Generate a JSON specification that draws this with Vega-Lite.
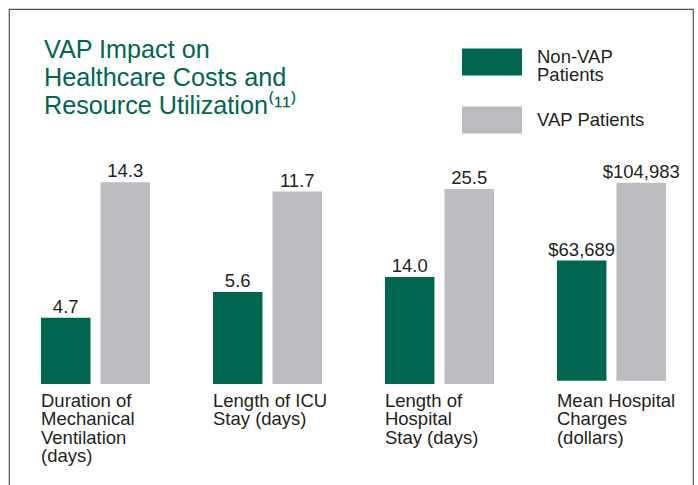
{
  "$schema": "https://vega.github.io/schema/vega-lite/v6.json",
  "width": 684,
  "height": 490,
  "padding": {"left": 9, "top": 9, "right": 5, "bottom": 0},
  "background": "white",
  "config": {
    "view": {"stroke": "#555555", "strokeWidth": 1.2},
    "font": "Liberation Sans",
    "text": {"font": "Liberation Sans", "fontSize": 18.5, "color": "#231f20"},
    "legend": {
      "orient": "none",
      "legendX": 453,
      "legendY": 23,
      "padding": 0,
      "title": null,
      "symbolType": "M-1,-0.45H1V0.45H-1Z",
      "symbolSize": 3600,
      "symbolStrokeWidth": 0,
      "symbolOpacity": 1,
      "labelFont": "Liberation Sans",
      "labelFontSize": 18.5,
      "labelColor": "#231f20",
      "labelOffset": 15,
      "labelLimit": 200,
      "rowPadding": 5
    }
  },
  "title": {
    "text": ["VAP Impact on", "Healthcare Costs and", "Resource Utilization⁽¹¹⁾"],
    "anchor": "start",
    "frame": "group",
    "orient": "top",
    "offset": -110,
    "dx": 35,
    "fontSize": 25.2,
    "font": "Liberation Sans",
    "fontWeight": "normal",
    "color": "#00664f",
    "lineHeight": 28
  },
  "data": {
    "values": [
      {"metric": "ventilation", "label": "Duration of\nMechanical\nVentilation\n(days)", "series": "Non-VAP Patients", "value": 4.7},
      {"metric": "ventilation", "label": "Duration of\nMechanical\nVentilation\n(days)", "series": "VAP Patients", "value": 14.3},
      {"metric": "icu", "label": "Length of ICU\nStay (days)", "series": "Non-VAP Patients", "value": 5.6},
      {"metric": "icu", "label": "Length of ICU\nStay (days)", "series": "VAP Patients", "value": 11.7},
      {"metric": "hospital", "label": "Length of\nHospital\nStay (days)", "series": "Non-VAP Patients", "value": 14.0},
      {"metric": "hospital", "label": "Length of\nHospital\nStay (days)", "series": "VAP Patients", "value": 25.5},
      {"metric": "charges", "label": "Mean Hospital\nCharges\n(dollars)", "series": "Non-VAP Patients", "value": 63689},
      {"metric": "charges", "label": "Mean Hospital\nCharges\n(dollars)", "series": "VAP Patients", "value": 104983}
    ]
  },
  "encoding": {
    "x": {
      "field": "metric",
      "type": "nominal",
      "axis": null,
      "scale": {"domain": ["ventilation", "icu", "hospital", "charges"], "paddingInner": 0.366, "paddingOuter": 0.1715, "align": 0.542}
    },
    "xOffset": {
      "field": "series",
      "type": "nominal",
      "scale": {"domain": ["Non-VAP Patients", "VAP Patients"], "paddingInner": 0.168, "paddingOuter": 0}
    }
  },
  "layer": [
    {
      "transform": [{"filter": "datum.metric == 'ventilation'"}],
      "encoding": {
        "y": {"field": "value", "type": "quantitative", "axis": null, "scale": {"domain": [-8.156, 26.596], "nice": false, "zero": false}}
      },
      "layer": [
        {
          "mark": {"type": "bar"},
          "encoding": {
            "color": {"field": "series", "type": "nominal", "scale": {"domain": ["Non-VAP Patients", "VAP Patients"], "range": ["#006652", "#bcbdc1"]},
              "legend": {"labelExpr": "datum.label == 'Non-VAP Patients' ? ['Non-VAP', 'Patients'] : datum.label", "encode": {"labels": {"update": {"lineHeight": {"value": 18}, "dy": {"signal": "datum.value == 'Non-VAP Patients' ? -5 : 0"}}}}}}
          }
        },
        {
          "mark": {"type": "text", "baseline": "alphabetic", "dy": -5},
          "encoding": {"text": {"field": "value", "type": "quantitative", "format": ".1f"}}
        }
      ]
    },
    {
      "transform": [{"filter": "datum.metric == 'icu'"}],
      "encoding": {
        "y": {"field": "value", "type": "quantitative", "axis": null, "scale": {"domain": [-6.991, 22.796], "nice": false, "zero": false}}
      },
      "layer": [
        {
          "mark": {"type": "bar"},
          "encoding": {
            "color": {"field": "series", "type": "nominal", "scale": {"domain": ["Non-VAP Patients", "VAP Patients"], "range": ["#006652", "#bcbdc1"]},
              "legend": {"labelExpr": "datum.label == 'Non-VAP Patients' ? ['Non-VAP', 'Patients'] : datum.label", "encode": {"labels": {"update": {"lineHeight": {"value": 18}, "dy": {"signal": "datum.value == 'Non-VAP Patients' ? -5 : 0"}}}}}}
          }
        },
        {
          "mark": {"type": "text", "baseline": "alphabetic", "dy": -5},
          "encoding": {"text": {"field": "value", "type": "quantitative", "format": ".1f"}}
        }
      ]
    },
    {
      "transform": [{"filter": "datum.metric == 'hospital'"}],
      "encoding": {
        "y": {"field": "value", "type": "quantitative", "axis": null, "scale": {"domain": [-15.033, 49.019], "nice": false, "zero": false}}
      },
      "layer": [
        {
          "mark": {"type": "bar"},
          "encoding": {
            "color": {"field": "series", "type": "nominal", "scale": {"domain": ["Non-VAP Patients", "VAP Patients"], "range": ["#006652", "#bcbdc1"]},
              "legend": {"labelExpr": "datum.label == 'Non-VAP Patients' ? ['Non-VAP', 'Patients'] : datum.label", "encode": {"labels": {"update": {"lineHeight": {"value": 18}, "dy": {"signal": "datum.value == 'Non-VAP Patients' ? -5 : 0"}}}}}}
          }
        },
        {
          "mark": {"type": "text", "baseline": "alphabetic", "dy": -5},
          "encoding": {"text": {"field": "value", "type": "quantitative", "format": ".1f"}}
        }
      ]
    },
    {
      "transform": [{"filter": "datum.metric == 'charges'"}],
      "encoding": {
        "y": {"field": "value", "type": "quantitative", "axis": null, "scale": {"domain": [-62722, 197074], "nice": false, "zero": false}}
      },
      "layer": [
        {
          "mark": {"type": "bar"},
          "encoding": {
            "color": {"field": "series", "type": "nominal", "scale": {"domain": ["Non-VAP Patients", "VAP Patients"], "range": ["#006652", "#bcbdc1"]},
              "legend": {"labelExpr": "datum.label == 'Non-VAP Patients' ? ['Non-VAP', 'Patients'] : datum.label", "encode": {"labels": {"update": {"lineHeight": {"value": 18}, "dy": {"signal": "datum.value == 'Non-VAP Patients' ? -5 : 0"}}}}}}
          }
        },
        {
          "mark": {"type": "text", "baseline": "alphabetic", "dy": -5},
          "encoding": {"text": {"field": "value", "type": "quantitative", "format": "$,.0f"}}
        }
      ]
    },
    {
      "transform": [{"filter": "datum.series == 'Non-VAP Patients'"}],
      "mark": {"type": "text", "align": "left", "baseline": "alphabetic", "dx": -24.75, "dy": 23, "lineBreak": "\n", "lineHeight": 18.3},
      "encoding": {
        "y": {"datum": 0, "type": "quantitative", "axis": null, "scale": {"domain": [-8.156, 26.596], "nice": false, "zero": false}},
        "text": {"field": "label", "type": "nominal"}
      }
    }
  ],
  "resolve": {"scale": {"y": "independent"}}
}
